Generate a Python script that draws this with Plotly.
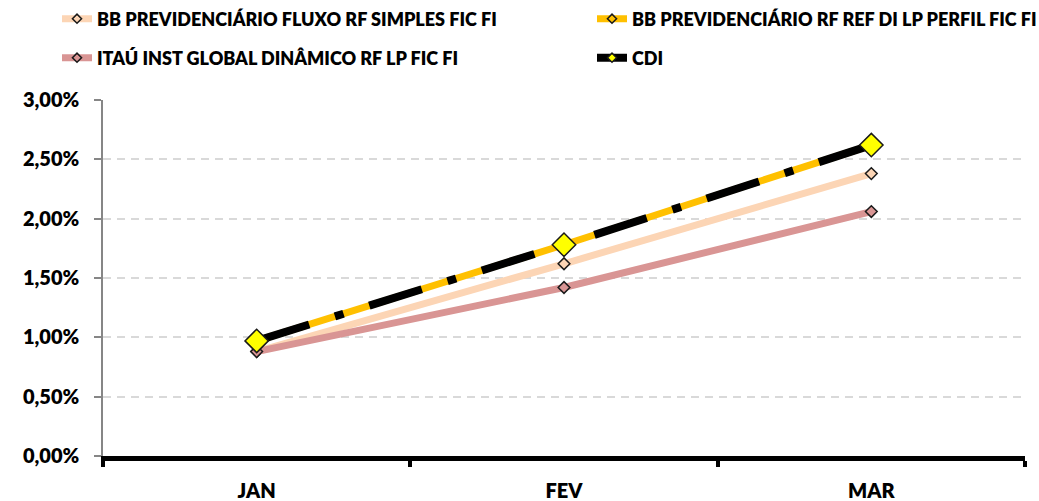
import plotly.graph_objects as go

months = ["JAN", "FEV", "MAR"]
fluxo = [0.88, 1.62, 2.38]
perfil = [0.97, 1.78, 2.62]
itau = [0.88, 1.42, 2.06]
cdi = [0.97, 1.78, 2.62]
y_ticks = [0, 0.5, 1.0, 1.5, 2.0, 2.5, 3.0]
y_labels = ["0,00%", "0,50%", "1,00%", "1,50%", "2,00%", "2,50%", "3,00%"]

names = ["BB PREVIDENCIÁRIO FLUXO RF SIMPLES FIC FI",
         "BB PREVIDENCIÁRIO RF REF DI LP PERFIL FIC FI",
         "ITAÚ INST GLOBAL DINÂMICO RF LP FIC FI",
         "CDI"]

FONT = "Lato"
WEIGHT = 800
W, H = 1039, 501
fig = go.Figure()

def add(y, name, color, lw, msize, mcolor, legend, dash="solid"):
    # data trace
    fig.add_trace(go.Scatter(
        x=months, y=y, name=name, mode="lines+markers",
        line=dict(color=color, width=lw, dash=dash),
        marker=dict(symbol="diamond", size=msize, color=mcolor,
                    line=dict(color="#1a1a1a", width=1.5)),
        showlegend=False, legendgroup=name,
    ))
    # legend entry (solid line sample, small marker)
    fig.add_trace(go.Scatter(
        x=[None], y=[None], name=name, mode="lines+markers",
        line=dict(color=color, width=lw),
        marker=dict(symbol="diamond", size=7, color=mcolor,
                    line=dict(color="#1a1a1a", width=1.5)),
        legend=legend, showlegend=True, legendgroup=name,
    ))

add(fluxo, names[0], "#FCD5B5", 7, 9, "#FCD5B5", "legend")
add(perfil, names[1], "#FFC000", 7, 9, "#FFC000", "legend2")
add(itau, names[2], "#D99594", 7, 9, "#D99594", "legend3")
add(cdi, names[3], "#000000", 8, 18, "#FFFF00", "legend4", dash="55px,27px,9px,27px")

def leg(xpx, ypx):
    return dict(orientation="h", xanchor="left", yanchor="middle",
                xref="container", yref="container",
                x=xpx / W, y=1 - ypx / H, visible=True,
                font=dict(family=FONT, size=18, color="#000000", weight=WEIGHT),
                bgcolor="rgba(0,0,0,0)", itemsizing="trace")

fig.update_layout(
    width=W, height=H, showlegend=True,
    paper_bgcolor="white", plot_bgcolor="white",
    margin=dict(l=103, r=14, t=100, b=45, autoexpand=False),
    font=dict(family=FONT, color="#000000"),
    legend=leg(57, 19),
    legend2=leg(592, 19),
    legend3=leg(57, 58),
    legend4=leg(592, 58),
    xaxis=dict(
        type="category", tickson="boundaries", ticks="outside", ticklen=6,
        tickwidth=4, tickcolor="#000000", showline=True, linecolor="#000000",
        linewidth=5, showgrid=False, zeroline=False,
        tickfont=dict(family=FONT, size=20, color="#000000", weight=WEIGHT),
        ticklabelstandoff=13, range=[-0.5, 2.5],
    ),
    yaxis=dict(
        range=[0, 3.0], tickvals=y_ticks, ticktext=y_labels,
        ticks="outside", ticklen=7, tickcolor="#868686", tickwidth=1.5,
        showline=True, linecolor="#868686", linewidth=1.5,
        showgrid=True, gridcolor="#D9D9D9", gridwidth=2, griddash="8px,6px",
        zeroline=False,
        tickfont=dict(family=FONT, size=20, color="#000000", weight=WEIGHT),
        ticklabelstandoff=11,
    ),
)

fig.write_html("out.html", config={"displayModeBar": False},
               post_script="document.body.style.margin='0px';document.body.style.padding='0px';")
